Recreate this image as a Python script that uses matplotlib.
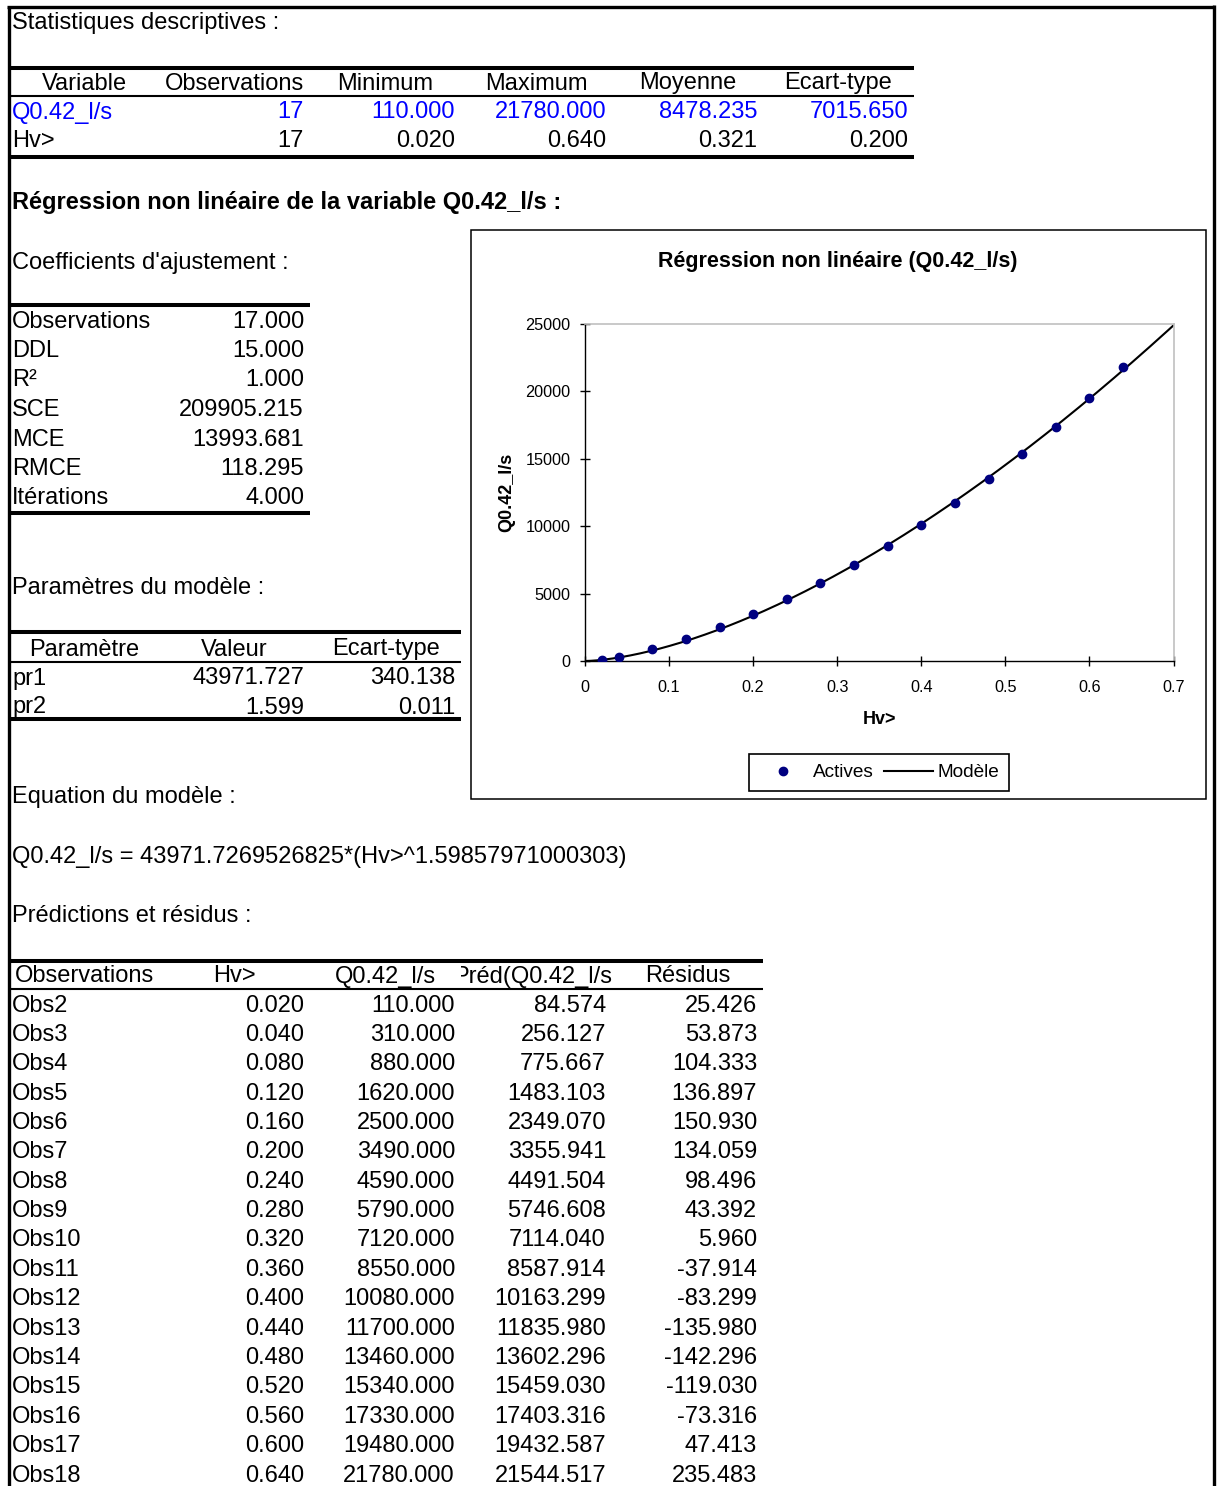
import matplotlib
matplotlib.use('Agg')
import matplotlib.pyplot as plt
import numpy as np
from matplotlib.patches import Rectangle

plt.rcParams['font.family'] = ['Liberation Sans', 'DejaVu Sans']

# ---------------- data ----------------
stat_vars = ['Q0.42_l/s', 'Hv>']
stat_obs = [17, 17]
stat_min = [110.000, 0.020]
stat_max = [21780.000, 0.640]
stat_mean = [8478.235, 0.321]
stat_sd = [7015.650, 0.200]
stat_headers = ['Variable', 'Observations', 'Minimum', 'Maximum', 'Moyenne', 'Ecart-type']

coef_names = ['Observations', 'DDL', 'R²', 'SCE', 'MCE', 'RMCE', 'Itérations']
coef_values = [17.000, 15.000, 1.000, 209905.215, 13993.681, 118.295, 4.000]

param_headers = ['Paramètre', 'Valeur', 'Ecart-type']
param_names = ['pr1', 'pr2']
param_values = [43971.727, 1.599]
param_se = [340.138, 0.011]
pr1_full = 43971.7269526825
pr2_full = 1.59857971000303

pred_headers = ['Observations', 'Hv>', 'Q0.42_l/s', 'Préd(Q0.42_l/s)', 'Résidus']
obs_names = ['Obs2', 'Obs3', 'Obs4', 'Obs5', 'Obs6', 'Obs7', 'Obs8', 'Obs9', 'Obs10',
             'Obs11', 'Obs12', 'Obs13', 'Obs14', 'Obs15', 'Obs16', 'Obs17', 'Obs18']
hv = [0.020, 0.040, 0.080, 0.120, 0.160, 0.200, 0.240, 0.280, 0.320,
      0.360, 0.400, 0.440, 0.480, 0.520, 0.560, 0.600, 0.640]
q = [110.0, 310.0, 880.0, 1620.0, 2500.0, 3490.0, 4590.0, 5790.0, 7120.0,
     8550.0, 10080.0, 11700.0, 13460.0, 15340.0, 17330.0, 19480.0, 21780.0]
pred = [84.574, 256.127, 775.667, 1483.103, 2349.070, 3355.941, 4491.504, 5746.608, 7114.040,
        8587.914, 10163.299, 11835.980, 13602.296, 15459.030, 17403.316, 19432.587, 21544.517]
resid = [25.426, 53.873, 104.333, 136.897, 150.930, 134.059, 98.496, 43.392, 5.960,
         -37.914, -83.299, -135.980, -142.296, -119.030, -73.316, 47.413, 235.483]

xticks = [0, 0.1, 0.2, 0.3, 0.4, 0.5, 0.6, 0.7]
yticks = [0, 5000, 10000, 15000, 20000, 25000]

# ---------------- layout ----------------
W, H = 1221, 1486
fig = plt.figure(figsize=(W / 100, H / 100), dpi=100)
base = fig.add_axes([0, 0, 1, 1])
base.set_xlim(0, W)
base.set_ylim(H, 0)
base.axis('off')

FS = 17
BLUE = '#0000FF'


def hline(y, x0, x1, lw):
    base.plot([x0, x1], [y, y], color='black', lw=lw, solid_capstyle='butt')


def txt(x, y, s, ha='left', color='black', weight='normal', size=FS, **kw):
    return base.text(x, y, s, ha=ha, va='baseline', color=color, weight=weight,
                     fontsize=size, **kw)


# outer border
base.plot([8.5, 8.5], [H + 5, 6.5], color='black', lw=2.4, solid_capstyle='butt')
base.plot([7, 1214], [6.5, 6.5], color='black', lw=2.4, solid_capstyle='butt')
base.plot([1214, 1214], [5, H + 5], color='black', lw=2.4, solid_capstyle='butt')

THICK = 2.9
THIN = 1.5

# ---- descriptive statistics ----
txt(12, 29.5, 'Statistiques descriptives :')
hline(67.5, 9, 914, THICK)
hline(96, 9, 914, THIN)
hline(156.5, 9, 914, THICK)
col_centers = [84, 234.5, 385.5, 536.5, 687.5, 838.5]
col_rights = [304, 455, 606, 757, 908]
for cx, h in zip(col_centers, stat_headers):
    txt(cx, 89.5, h, ha='center')
for i, name in enumerate(stat_vars):
    y = 118.5 + 28.5 * i
    c = BLUE if i == 0 else 'black'
    txt(12, y, name, color=c)
    vals = ['%d' % stat_obs[i], '%.3f' % stat_min[i], '%.3f' % stat_max[i],
            '%.3f' % stat_mean[i], '%.3f' % stat_sd[i]]
    for xr, v in zip(col_rights, vals):
        txt(xr, y, v, ha='right', color=c)

txt(12, 209, 'Régression non linéaire de la variable Q0.42_l/s :', weight='bold')

# ---- coefficients ----
txt(12, 268.5, "Coefficients d'ajustement :")
hline(305, 9, 310, THICK)
hline(512.5, 9, 310, THICK)
for i, (n, v) in enumerate(zip(coef_names, coef_values)):
    y = 327.5 + 29.5 * i
    txt(12, y, n)
    txt(304, y, '%.3f' % v, ha='right')

# ---- parameters ----
txt(12, 594.5, 'Paramètres du modèle :')
hline(632, 9, 461, THICK)
hline(662, 9, 461, THIN)
hline(719, 9, 461, THICK)
for cx, h in zip(col_centers[:3], param_headers):
    txt(cx, 655.5, h, ha='center')
for i, n in enumerate(param_names):
    y = 684.5 + 29 * i
    txt(12, y, n)
    txt(304, y, '%.3f' % param_values[i], ha='right')
    txt(455, y, '%.3f' % param_se[i], ha='right')

# ---- equation ----
txt(12, 803.5, 'Equation du modèle :')
txt(12, 862.5, 'Q0.42_l/s = %s*(Hv>^%s)' % (repr(pr1_full), repr(pr2_full)))

# ---- predictions ----
txt(12, 921.5, 'Prédictions et résidus :')
hline(960.5, 9, 763, THICK)
hline(989, 9, 763, THIN)
for j, (cx, h) in enumerate(zip(col_centers[:5], pred_headers)):
    t = txt(cx, 982.5, h, ha='center')
    left = cx - 75.5 if j else 9
    clip = Rectangle((left, 960), 151, 30, transform=base.transData)
    t.set_clip_path(clip)
    t.set_clip_on(True)
for i in range(len(obs_names)):
    y = 1011.5 + 29.375 * i
    txt(12, y, obs_names[i])
    txt(304, y, '%.3f' % hv[i], ha='right')
    txt(455, y, '%.3f' % q[i], ha='right')
    txt(606, y, '%.3f' % pred[i], ha='right')
    txt(757, y, '%.3f' % resid[i], ha='right')

# ---------------- chart ----------------
base.add_patch(Rectangle((471, 230), 735, 569, facecolor='white',
                         edgecolor='black', lw=1.1, zorder=0.5))
txt(838, 267.5, 'Régression non linéaire (Q0.42_l/s)', ha='center',
    weight='bold', size=15.5)
txt(880, 724.5, 'Hv>', ha='center', weight='bold', size=13)
base.text(507, 492, 'Q0.42_l/s', rotation=90, ha='center', va='center',
          weight='bold', fontsize=13)

x0, x1, ytop, ybot = 585, 1173.5, 323.5, 661
cax = fig.add_axes([x0 / W, 1 - ybot / H, (x1 - x0) / W, (ybot - ytop) / H])
cax.set_facecolor('none')
xs = np.linspace(0, 0.7, 300)
cax.plot(xs, pr1_full * xs ** pr2_full, color='black', lw=1.5, label='Modèle', zorder=2)
cax.plot(hv, q, 'o', color='#000080', ms=6, label='Actives', zorder=3, linestyle='none')
cax.set_xlim(0, 0.7)
cax.set_ylim(0, 25000)
cax.set_xticks(xticks)
cax.set_xticklabels(['%g' % v for v in xticks])
cax.set_yticks(yticks)
cax.set_yticklabels(['%d' % v for v in yticks])
for s in ['top', 'right']:
    cax.spines[s].set_color('#c0c0c0')
    cax.spines[s].set_linewidth(1.2)
for s in ['left', 'bottom']:
    cax.spines[s].set_color('black')
    cax.spines[s].set_linewidth(1.0)
cax.tick_params(axis='both', direction='inout', length=7, width=1, labelsize=11.7)
cax.tick_params(axis='x', pad=10)
cax.tick_params(axis='y', pad=7)

handles, labels = cax.get_legend_handles_labels()
leg = cax.legend(handles[::-1], labels[::-1], loc='center',
                 bbox_to_anchor=(879 / W, 1 - 772.5 / H), bbox_transform=fig.transFigure,
                 ncol=2, frameon=True, fancybox=False, edgecolor='black', framealpha=1,
                 fontsize=13.7, handlelength=2.6, handletextpad=0.25, columnspacing=0.55,
                 borderpad=0.5, borderaxespad=0)
leg.get_frame().set_linewidth(1.2)

fig.savefig('out.png', dpi=100)
